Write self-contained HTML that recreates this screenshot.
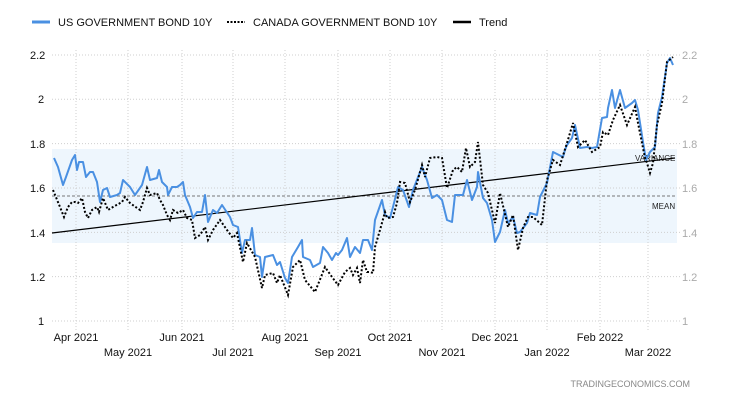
<!DOCTYPE html>
<html><head><meta charset="utf-8"><style>
body{margin:0;background:#fff;}
svg{display:block;font-family:"Liberation Sans",sans-serif;}
</style></head><body>
<svg id="c" width="730" height="400" xmlns="http://www.w3.org/2000/svg">
<rect width="730" height="400" fill="#fff"/>
<rect x="52" y="149" width="625" height="94" fill="#eef6fd"/>
<g id="grid" stroke="#cfcfcf" stroke-dasharray="1,2" stroke-width="1"></g>
<line x1="52" y1="196" x2="677" y2="196" stroke="#777" stroke-dasharray="3,2" stroke-width="1"/>
<text x="635" y="161" font-size="8" fill="#222">VARIANCE</text>
<text x="652" y="209" font-size="8" fill="#222">MEAN</text>
<line x1="52" y1="233" x2="675" y2="158" stroke="#000" stroke-width="1.2"/>
<polyline id="us" fill="none" stroke="#4a90e2" stroke-width="2" stroke-linejoin="round" points="54,158 58,167 63,185 66,177 72,160 75,155 77,170 79,162 83,162 86,177 90,172 93,172 97,182 100,202 103,190 107,188 110,197 117,195 120,193 123,180 130,187 135,195 142,185 147,167 150,180 157,178 159,170 162,182 167,187 168,195 172,187 177,187 180,185 183,182 185,195 190,207 193,218 197,212 202,212 205,195 208,222 213,210 217,213 222,205 230,217 233,225 238,227 242,253 245,240 250,240 252,228 255,255 260,257 262,277 265,257 273,255 277,265 280,262 285,278 288,283 292,257 298,247 302,240 303,257 310,260 313,267 320,263 323,247 328,253 332,260 336,253 338,255 342,250 347,238 350,257 355,247 360,253 363,240 368,240 372,250 375,220 382,200 385,215 390,218 393,207 398,187 403,190 409,207 413,190 422,167 427,180 432,198 437,195 442,200 447,220 452,222 455,195 463,195 467,180 472,200 477,187 478,172 483,198 487,203 492,220 495,242 500,232 505,210 508,223 513,217 517,233 520,232 527,223 530,213 537,215 540,197 547,183 553,152 563,157 565,150 567,145 572,138 575,125 580,148 587,147 592,148 597,147 602,118 607,117 608,108 612,90 615,108 620,90 625,108 632,103 635,100 638,110 643,142 646,160 650,152 655,147 658,113 662,97 667,63 670,58 673,65"/>
<polyline id="ca" fill="none" stroke="#000" stroke-width="2" stroke-dasharray="2,2" points="53,190 60,207 64,217 68,207 72,202 75,202 78,203 82,198 85,212 88,218 92,210 97,207 99,212 103,198 108,210 113,207 122,202 125,197 130,203 137,208 140,210 143,202 147,188 150,195 157,193 160,200 163,205 167,215 170,220 173,210 178,213 183,210 187,218 192,220 195,238 200,235 205,227 208,240 213,230 220,220 227,230 233,238 237,233 243,262 247,243 255,257 262,288 265,275 273,273 277,283 280,275 288,295 293,267 300,260 305,280 315,292 325,267 332,277 338,285 345,272 350,268 353,275 357,268 360,283 363,260 367,272 370,272 373,273 375,247 380,230 385,212 387,218 393,217 397,203 400,182 405,183 410,202 415,190 422,165 425,177 430,158 437,157 442,158 447,188 453,170 457,167 462,172 466,148 470,167 475,162 478,142 483,185 488,193 495,223 500,193 508,227 513,215 518,250 523,228 528,217 533,217 542,225 547,180 553,160 560,165 567,143 573,123 578,147 585,140 592,152 600,147 603,132 608,135 613,120 620,105 627,125 635,107 638,123 645,158 647,163 650,173 653,163 657,125 662,103 667,62 673,57"/>
<g font-size="11" fill="#111">
<text x="30" y="59">2.2</text><text x="38" y="103">2</text><text x="30" y="148">1.8</text><text x="30" y="192">1.6</text><text x="30" y="237">1.4</text><text x="30" y="281">1.2</text><text x="38" y="325">1</text>
</g>
<g font-size="11" fill="#aaa">
<text x="682" y="59">2.2</text><text x="682" y="103">2</text><text x="682" y="148">1.8</text><text x="682" y="192">1.6</text><text x="682" y="237">1.4</text><text x="682" y="281">1.2</text><text x="682" y="325">1</text>
</g>
<g font-size="11" fill="#111" text-anchor="middle">
<text x="76" y="341">Apr 2021</text><text x="182" y="341">Jun 2021</text><text x="285" y="341">Aug 2021</text><text x="390" y="341">Oct 2021</text><text x="495" y="341">Dec 2021</text><text x="600" y="341">Feb 2022</text>
<text x="128" y="356">May 2021</text><text x="233" y="356">Jul 2021</text><text x="338" y="356">Sep 2021</text><text x="442" y="356">Nov 2021</text><text x="547" y="356">Jan 2022</text><text x="648" y="356">Mar 2022</text>
</g>
<text x="690" y="387" font-size="9" fill="#888" text-anchor="end">TRADINGECONOMICS.COM</text>
<line x1="32" y1="22" x2="50" y2="22" stroke="#4a90e2" stroke-width="3"/>
<text x="58" y="26" font-size="11" fill="#111">US GOVERNMENT BOND 10Y</text>
<line x1="227" y1="22" x2="245" y2="22" stroke="#000" stroke-width="2" stroke-dasharray="2,1.5"/>
<text x="253" y="26" font-size="11" fill="#111">CANADA GOVERNMENT BOND 10Y</text>
<line x1="453" y1="22" x2="471" y2="22" stroke="#000" stroke-width="2.5"/>
<text x="479" y="26" font-size="11" fill="#111">Trend</text>
</svg>
<script>
var g=document.getElementById('grid'),ns='http://www.w3.org/2000/svg';
[2.2,2,1.8,1.6,1.4,1.2,1].forEach(function(v){var y=321-(v-1)*221.7;var l=document.createElementNS(ns,'line');l.setAttribute('x1',52);l.setAttribute('x2',681);l.setAttribute('y1',y);l.setAttribute('y2',y);g.appendChild(l);});
[76,128,182,233,285,338,390,442,495,547,600,648].forEach(function(x){var l=document.createElementNS(ns,'line');l.setAttribute('x1',x);l.setAttribute('x2',x);l.setAttribute('y1',50);l.setAttribute('y2',330);g.appendChild(l);});
</script>
</body></html>
